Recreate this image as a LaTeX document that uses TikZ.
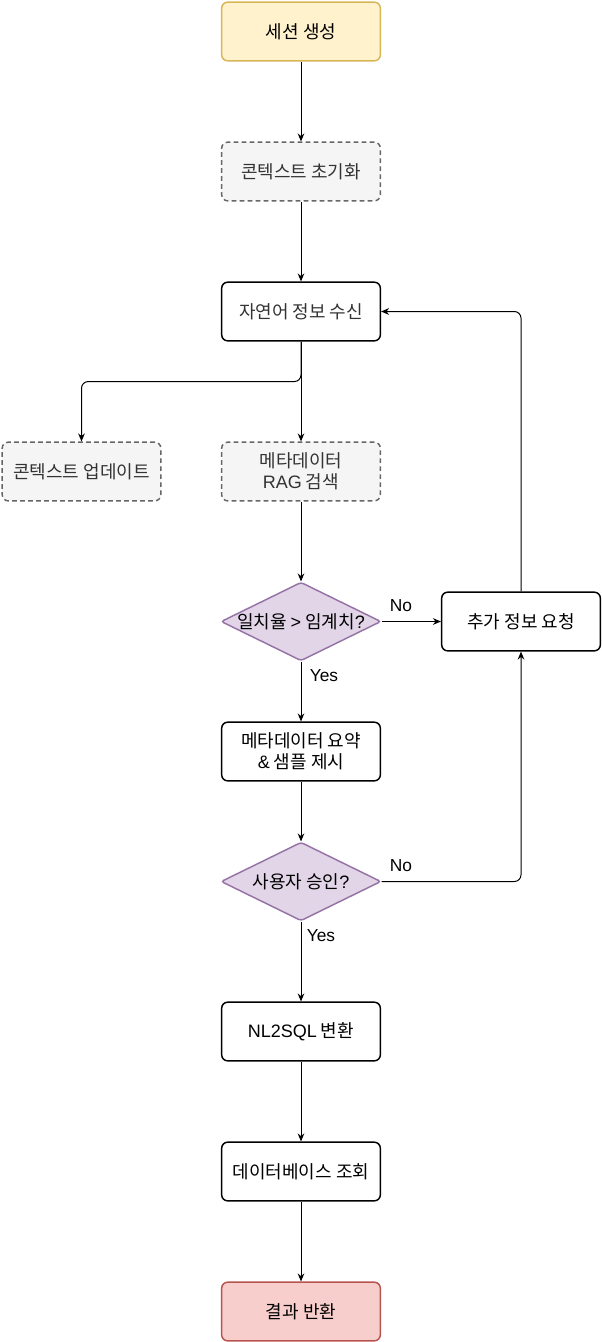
\documentclass[tikz,border=0pt]{standalone}
\usepackage{fontspec}
\setmainfont{Noto Sans CJK KR}
\newfontfamily\lat{Liberation Sans}
\usetikzlibrary{arrows.meta}
\usetikzlibrary{positioning, shapes.geometric}
\definecolor{startfill}{HTML}{FFF2CC}
\definecolor{startline}{HTML}{D6B656}
\definecolor{ctxfill}{HTML}{F5F5F5}
\definecolor{ctxline}{HTML}{666666}
\definecolor{ctxtext}{HTML}{333333}
\definecolor{askfill}{HTML}{E1D5E7}
\definecolor{askline}{HTML}{9673A6}
\definecolor{endfill}{HTML}{F8CECC}
\definecolor{endline}{HTML}{B85450}

\begin{document}
\begin{tikzpicture}[
            x=0.75pt, y=-0.75pt, font=\fontsize{13.5}{15.5}\selectfont,
            box/.style={rectangle, rounded corners=4.5pt, minimum width=119pt,
                minimum height=44pt, align=center, line width=1.1pt},
            startbox/.style={box, draw=startline, fill=startfill},
            ctxbox/.style={box, draw=ctxline, fill=ctxfill, text=ctxtext,
                dash pattern=on 3.5pt off 2.5pt},
            procbox/.style={box, draw=black, fill=white},
            endbox/.style={box, draw=endline, fill=endfill},
            decision/.style={diamond, aspect=2, draw=askline, fill=askfill,
                line width=1.1pt, minimum width=120pt, minimum height=59pt,
                inner sep=0pt, rounded corners=2pt},
            flow/.style={-{Stealth[length=6pt, width=5pt]}, line width=0.75pt},
            elbow/.style={flow, rounded corners=5pt},
            lbl/.style={font=\fontsize{13}{15}\selectfont\lat}
        ]
            \useasboundingbox (0,0) rectangle (602,1342);

            % Main column
            \node[startbox] (session) at (301,31.5) {세션 생성};
            \node[ctxbox] (ctxinit) at (301,171.5) {콘텍스트 초기화};
            \node[procbox, text=ctxtext] (receive) at (301,311.5) {자연어 정보 수신};
            \node[ctxbox] (ctxupd) at (81.5,471.5) {콘텍스트 업데이트};
            \node[ctxbox] (rag) at (301,471.5) {메타데이터\\{\lat RAG} 검색};
            \node[decision, label=center:{일치율 {\lat >} 임계치{\lat ?}}] (match) at (301,621.5) {};
            \node[procbox] (more) at (521,621.5) {추가 정보 요청};
            \node[procbox] (summary) at (301,751.5) {메타데이터 요약\\{\lat\&} 샘플 제시};
            \node[decision, label=center:{사용자 승인{\lat ?}}] (approve) at (301,881.5) {};
            \node[procbox] (nlsql) at (301,1031.5) {{\lat NL2SQL} 변환};
            \node[procbox] (dbquery) at (301,1171.5) {데이터베이스 조회};
            \node[endbox] (result) at (301,1311.5) {결과 반환};

            % Connectors
            \draw[flow] (session) -- (ctxinit);
            \draw[flow] (ctxinit) -- (receive);
            \draw[flow] (receive) -- (rag);
            \draw[elbow] (receive.south) -- ++(0,40) -| (ctxupd.north);
            \draw[flow] (rag) -- (match);
            \draw[flow] (match) -- (more);
            \draw[flow] (match) -- (summary);
            \draw[elbow] (more.north) |- (receive.east);
            \draw[flow] (summary) -- (approve);
            \draw[elbow] (approve.east) -| (more.south);
            \draw[flow] (approve) -- (nlsql);
            \draw[flow] (nlsql) -- (dbquery);
            \draw[flow] (dbquery) -- (result);

            % Branch labels
            \node[lbl] (nomatch) at (401,606) {No};
            \node[lbl] (yesmatch) at (324,676) {Yes};
            \node[lbl] (noapprove) at (401,866) {No};
            \node[lbl] (yesapprove) at (321,936) {Yes};

        \end{tikzpicture}
\end{document}
